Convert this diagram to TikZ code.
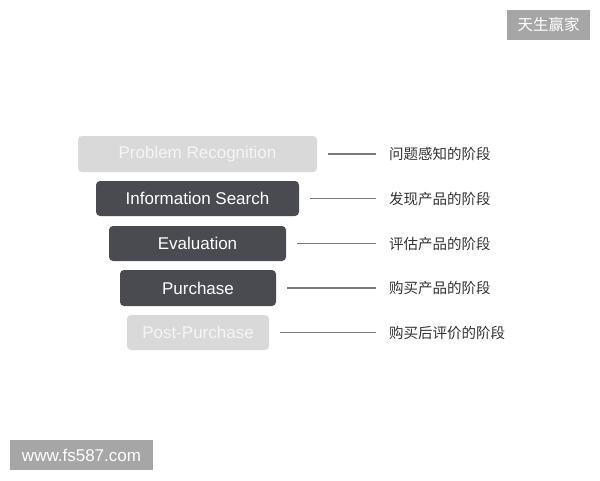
\documentclass[tikz,border=0pt]{standalone}
\usepackage{fontspec}
\setmainfont{Liberation Sans}
\newfontfamily\cjk{Noto Sans CJK SC}
\definecolor{darkbox}{HTML}{4A4B51}
\definecolor{lightbox}{HTML}{D9D9D9}
\definecolor{wmgray}{HTML}{A6A6A6}
\definecolor{linegray}{HTML}{7A7A7A}
\definecolor{labeltext}{HTML}{333333}
\begin{document}
\begin{tikzpicture}[x=1pt,y=-1pt,
  stagebox/.style={rectangle, rounded corners=4pt, inner sep=0pt,
    font=\fontsize{17}{17}\selectfont},
  darkstage/.style={stagebox, fill=darkbox, text=white},
  lightstage/.style={stagebox, fill=lightbox, text=white!96!black},
  stagelabel/.style={anchor=west, inner sep=0pt, text=labeltext,
    font=\cjk\fontsize{14.5}{14.5}\selectfont},
  connector/.style={draw=linegray, line width=1.5pt},
  watermark/.style={rectangle, fill=wmgray, text=white, inner sep=0pt}
]
\useasboundingbox (0,0) rectangle (600,480);
\fill[white] (0,0) rectangle (600,480);

\node[lightstage, minimum width=239pt, minimum height=36pt] (pr) at (197.5,154) {Problem Recognition};
\node[darkstage, minimum width=203pt, minimum height=35pt] (is) at (197.5,198.5) {Information Search};
\node[darkstage, minimum width=177pt, minimum height=35pt] (ev) at (197.5,243.5) {Evaluation};
\node[darkstage, minimum width=156pt, minimum height=36pt] (pu) at (198,288) {Purchase};
\node[lightstage, minimum width=142pt, minimum height=35pt] (pp) at (198,332.5) {Post-Purchase};

\node[stagelabel] (l1) at (389,154) {问题感知的阶段};
\node[stagelabel] (l2) at (389,198.5) {发现产品的阶段};
\node[stagelabel] (l3) at (389,243.5) {评估产品的阶段};
\node[stagelabel] (l4) at (389,288) {购买产品的阶段};
\node[stagelabel] (l5) at (389,332.5) {购买后评价的阶段};

\draw[connector] ([xshift=11pt]pr.east) -- ([xshift=-13pt]l1.west);
\draw[connector] ([xshift=11pt]is.east) -- ([xshift=-13pt]l2.west);
\draw[connector] ([xshift=11pt]ev.east) -- ([xshift=-13pt]l3.west);
\draw[connector] ([xshift=11pt]pu.east) -- ([xshift=-13pt]l4.west);
\draw[connector] ([xshift=11pt]pp.east) -- ([xshift=-13pt]l5.west);

\node[watermark, minimum width=83pt, minimum height=30pt, font=\cjk\fontsize{15.5}{15.5}\selectfont] (wm1) at (548.5,25) {天生赢家};
\node[watermark, minimum width=143pt, minimum height=30pt, font=\fontsize{17}{17}\selectfont] (wm2) at (81.5,455) {www.fs587.com};
\end{tikzpicture}
\end{document}
